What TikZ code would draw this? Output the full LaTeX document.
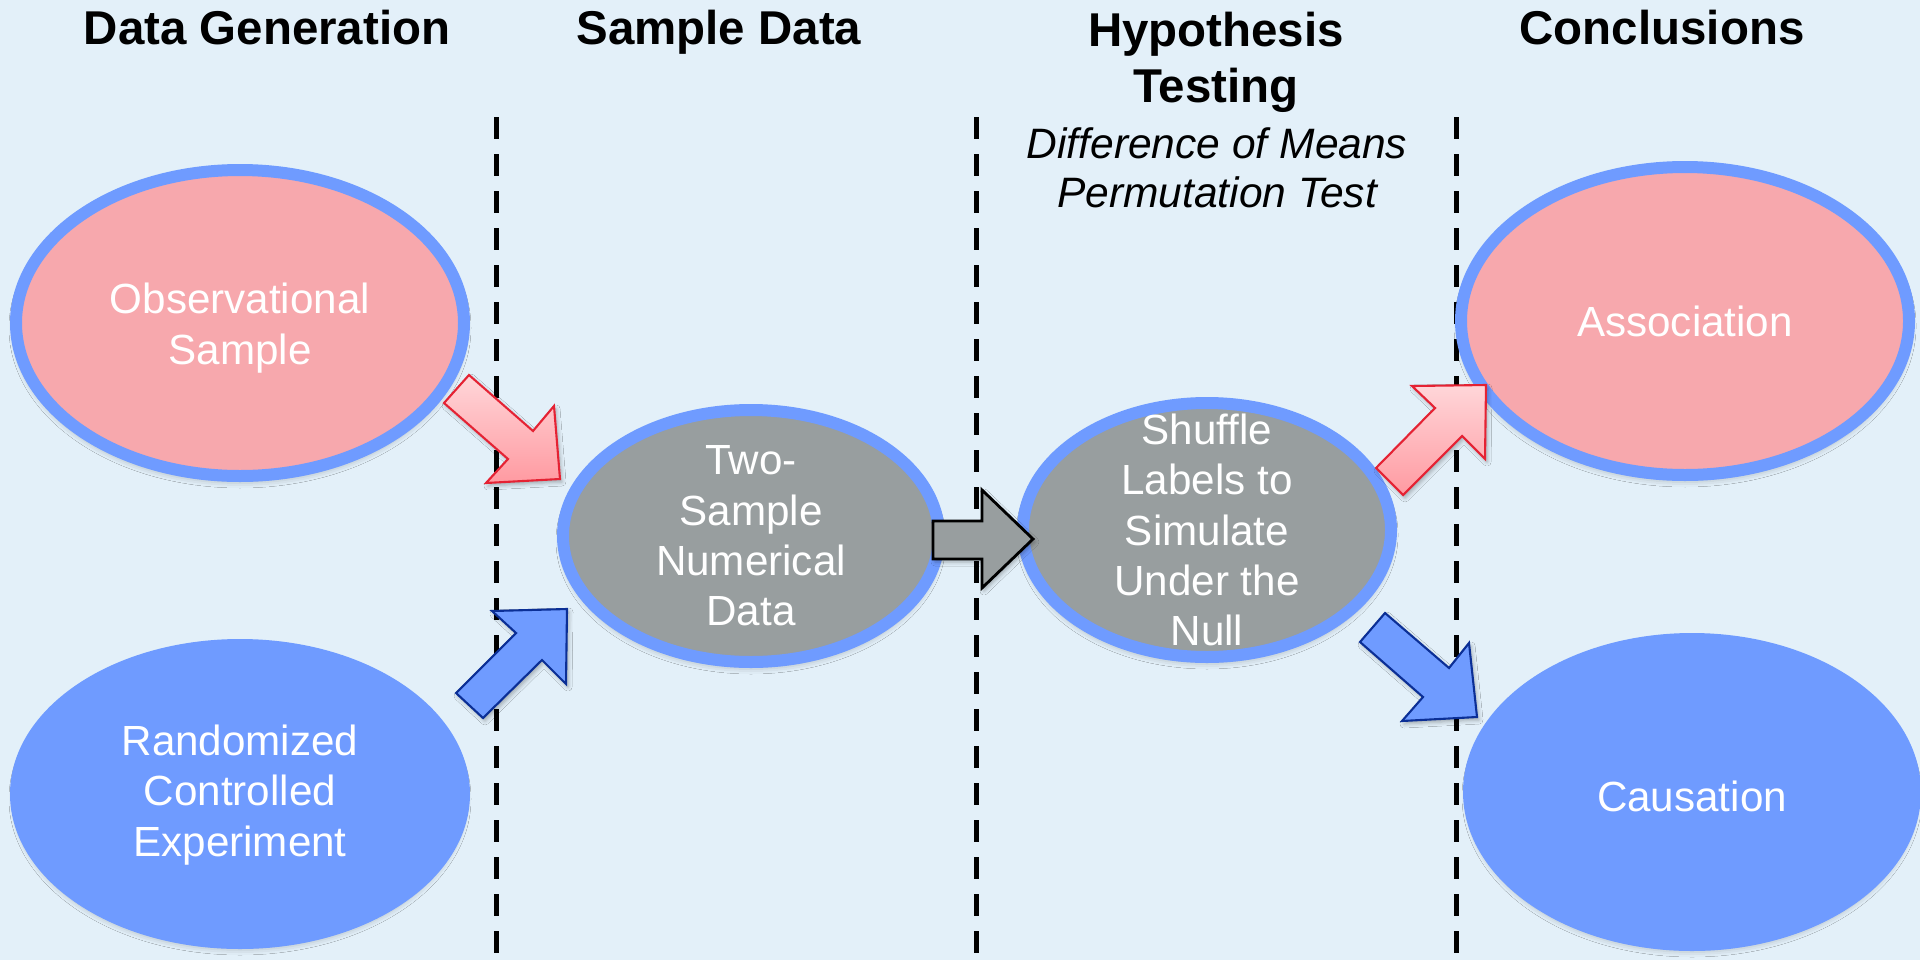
\documentclass[tikz,border=0pt]{standalone}
\usepackage{fontspec}
\setmainfont{Liberation Sans}
\usetikzlibrary{shapes.geometric,shadows.blur}
\definecolor{bg}{HTML}{E3F0F9}
\definecolor{pinkfill}{HTML}{F7A8AD}
\definecolor{bluefill}{HTML}{6F9BFF}
\definecolor{grayfill}{HTML}{989E9F}
\definecolor{redline}{HTML}{E52233}
\definecolor{redlight}{HTML}{FFD6D9}
\definecolor{reddark}{HTML}{FF9AA1}
\definecolor{navy}{HTML}{0B2F96}
\tikzset{
  oval/.style={ellipse, line width=0.12cm, draw=bluefill, inner sep=0pt,
    blur shadow={shadow xshift=0pt, shadow yshift=-0.05cm, shadow blur radius=0.07cm, shadow opacity=30}},
  ovaltext/.style={text=white, align=center, inner sep=0pt, font=\fontsize{12}{14.3}\selectfont},
  header/.style={font=\fontsize{13.5}{15.9}\selectfont\bfseries, align=center, anchor=base},
  subhead/.style={font=\fontsize{12.1}{13.9}\selectfont\itshape, align=center, anchor=base},
  divider/.style={line width=0.05cm, dash pattern=on 0.22cm off 0.15cm},
  redarrow/.style={draw=redline, line width=0.6pt, top color=redlight, bottom color=reddark,
    blur shadow={shadow xshift=0.02cm, shadow yshift=-0.03cm, shadow blur radius=0.04cm, shadow opacity=30}},
  bluearrow/.style={draw=navy, line width=0.6pt, fill=bluefill,
    blur shadow={shadow xshift=0.02cm, shadow yshift=-0.03cm, shadow blur radius=0.04cm, shadow opacity=30}},
  grayarrow/.style={draw=black, line width=0.8pt, fill=grayfill,
    blur shadow={shadow xshift=0.02cm, shadow yshift=-0.03cm, shadow blur radius=0.04cm, shadow opacity=30}},
}
\begin{document}
\begin{tikzpicture}
\useasboundingbox (0,0) rectangle (19.2,9.6);
\fill[bg] (0,0) rectangle (19.2,9.6);

% dividers
\coordinate (d1t) at (4.96,8.43); \coordinate (d1b) at (4.96,0);
\coordinate (d2t) at (9.76,8.43); \coordinate (d2b) at (9.76,0);
\coordinate (d3t) at (14.56,8.43); \coordinate (d3b) at (14.56,0);
\draw[divider] (d1t) -- (d1b);
\draw[divider] (d2t) -- (d2b);
\draw[divider] (d3t) -- (d3b);

% headers
\node[header] (h1) at (2.67,9.16) {Data Generation};
\node[header] (h2) at (7.19,9.16) {Sample Data};
\node[header] (h3) at (12.16,8.58) {Hypothesis\\Testing};
\node[subhead] (h3s) at (12.17,7.53) {Difference of Means\\Permutation Test};
\node[header] (h4) at (16.62,9.16) {Conclusions};

% ellipses
\node[oval, fill=pinkfill, minimum width=4.48cm, minimum height=3.06cm] (obs) at (2.40,6.37) {};
\node[oval, fill=bluefill, minimum width=4.48cm, minimum height=2.98cm] (rand) at (2.40,1.66) {};
\node[oval, fill=grayfill, minimum width=3.76cm, minimum height=2.52cm] (two) at (7.51,4.24) {};
\node[oval, fill=grayfill, minimum width=3.68cm, minimum height=2.54cm] (shuf) at (12.07,4.30) {};
\node[oval, fill=pinkfill, minimum width=4.48cm, minimum height=3.08cm] (assoc) at (16.85,6.39) {};
\node[oval, fill=bluefill, minimum width=4.46cm, minimum height=3.06cm] (caus) at (16.92,1.68) {};

% ellipse texts
\node[ovaltext] (obst) at ([yshift=-0.05cm]obs.center) {Observational\\Sample};
\node[ovaltext] (randt) at ([yshift=-0.01cm]rand.center) {Randomized\\Controlled\\Experiment};
\node[ovaltext] (twot) at (two.center) {Two-\\Sample\\Numerical\\Data};
\node[ovaltext] (shuft) at (shuf.center) {Shuffle\\Labels to\\Simulate\\Under the\\Null};
\node[ovaltext] (assoct) at (assoc.center) {Association};
\node[ovaltext] (caust) at ([yshift=-0.04cm]caus.center) {Causation};

% block arrows
\draw[redarrow] (4.69,5.85) -- (5.33,5.29) -- (5.54,5.54) -- (5.60,4.81) -- (4.86,4.77) -- (5.08,5.01) -- (4.44,5.57) -- cycle;
\draw[bluearrow] (4.56,2.67) -- (4.83,2.42) -- (5.42,3.00) -- (5.66,2.76) -- (5.67,3.51) -- (4.92,3.49) -- (5.16,3.27) -- cycle;
\draw[grayarrow] (9.33,4.39) -- (9.82,4.39) -- (9.82,4.70) -- (10.33,4.21) -- (9.82,3.72) -- (9.82,4.01) -- (9.33,4.01) -- cycle;
\draw[redarrow] (13.76,4.92) -- (14.03,4.65) -- (14.62,5.24) -- (14.85,5.01) -- (14.86,5.75) -- (14.12,5.74) -- (14.35,5.52) -- cycle;
\draw[bluearrow] (13.85,3.47) -- (14.49,2.92) -- (14.69,3.17) -- (14.77,2.43) -- (14.02,2.39) -- (14.23,2.63) -- (13.60,3.18) -- cycle;
\end{tikzpicture}
\end{document}
